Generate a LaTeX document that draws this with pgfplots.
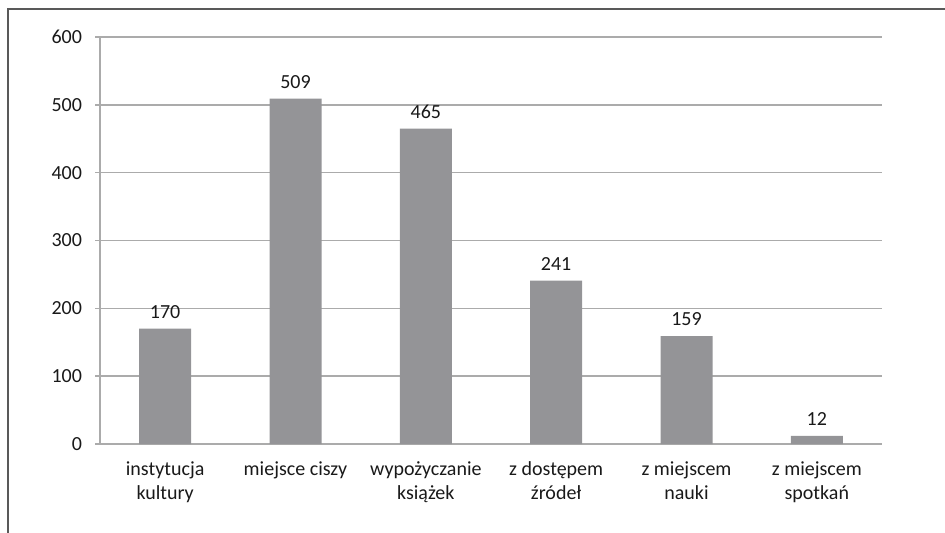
\documentclass[border=0pt]{standalone}
\usepackage{pgfplots}
\pgfplotsset{compat=1.18}
\usepackage{fontspec}
\setmainfont{Carlito}
\definecolor{barc}{HTML}{949497}
\definecolor{gridc}{HTML}{ABABAB}
\definecolor{framec}{HTML}{595959}
\begin{document}
\begin{tikzpicture}
\useasboundingbox (0,0) rectangle (472.5pt,266pt);
\draw[framec, line width=0.8pt] (4pt,-20pt) -- (4pt,261.5pt) -- (490pt,261.5pt);
\begin{axis}[
  at={(50pt,44pt)}, anchor=south west,
  scale only axis, width=391pt, height=203.5pt,
  xmin=-0.5, xmax=5.5, ymin=0, ymax=600,
  ytick={0,100,...,600},
  xtick={0,...,5},
  xticklabels={{instytucja\\kultury},{miejsce ciszy},{wypożyczanie\\książek},{z dostępem\\źródeł},{z miejscem\\nauki},{z miejscem\\spotkań}},
  minor xtick={-0.5,0.5,...,5.5},
  axis x line=bottom, axis y line=left,
  axis line style={gridc, line width=0.8pt, -},
  ymajorgrids, major grid style={gridc, line width=0.8pt},
  xtick style={draw=none},
  minor tick style={gridc, line width=0.8pt},
  minor tick length=2.5pt,
  ytick style={gridc, line width=0.8pt},
  major tick length=2.5pt,
  tick align=outside,
  tick label style={font=\fontsize{10}{12}\selectfont, text=black!90},
  xticklabel style={align=center, yshift=-3pt},
  yticklabel style={xshift=-3pt},
  /pgf/number format/assume math mode=true,
  clip=false,
]
\addplot[ybar, bar width=26pt, fill=barc, draw=none,
  nodes near coords, every node near coord/.append style={font=\fontsize{10}{12}\selectfont, text=black!90, yshift=1.5pt}]
  coordinates {(0,170) (1,509) (2,465) (3,241) (4,159) (5,12)};
\end{axis}
\end{tikzpicture}
\end{document}
